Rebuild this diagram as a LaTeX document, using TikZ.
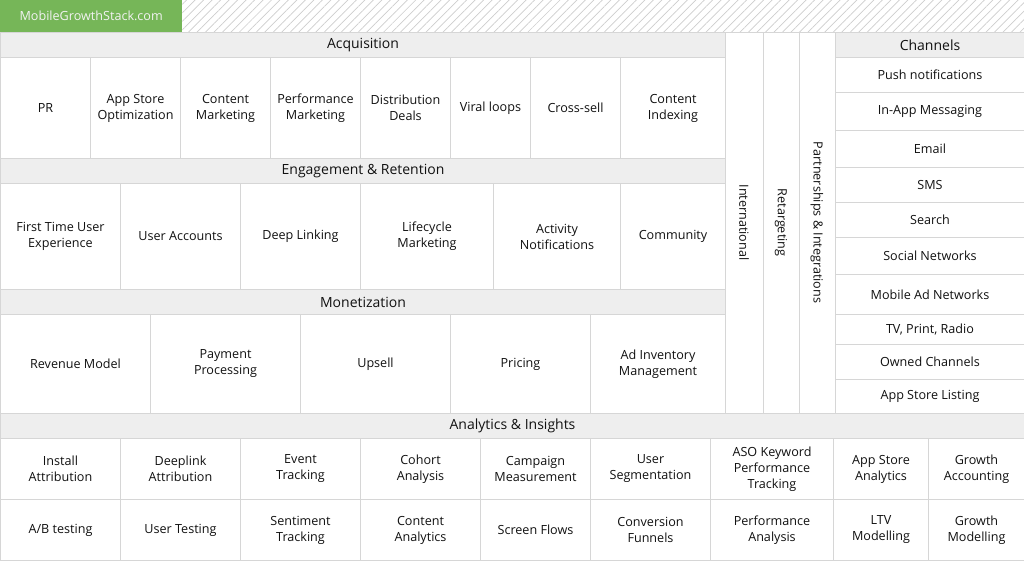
\documentclass[tikz,border=0pt]{standalone}
\usepackage{fontspec}
\setmainfont{Open Sans}
\usetikzlibrary{positioning,patterns.meta}
\definecolor{stackgreen}{RGB}{118,182,88}
\definecolor{linegray}{RGB}{214,214,214}
\definecolor{hdrgray}{RGB}{238,238,238}
\definecolor{txtgray}{RGB}{17,17,17}
\definecolor{hatchgray}{RGB}{205,205,205}

\begin{document}
\begin{tikzpicture}[x=1pt,y=-1pt,
  cell/.style={draw=linegray,line width=1pt,fill=white,anchor=north west,inner sep=0pt,
    align=center,text=txtgray,font=\fontsize{12.6}{16}\selectfont},
  hdr/.style={cell,fill=hdrgray,font=\fontsize{14}{16}\selectfont},
  side/.style={cell,anchor=center,rotate=-90}]
  \useasboundingbox (0,0) rectangle (1024,560);

  % title bar
  \node[fill=stackgreen,anchor=north west,minimum width=182pt,minimum height=32pt,inner sep=0pt,
    text=white!95!black,font=\fontsize{12.6}{14}\selectfont] (brand) at (0,0) {MobileGrowthStack.com};
  \node[anchor=north west,minimum width=842pt,minimum height=32pt,inner sep=0pt,
    pattern={Lines[angle=45,distance=6pt,line width=0.7pt]},pattern color=hatchgray] (hatch) at (182,0) {};

  % Acquisition
  \node[hdr,minimum width=725pt,minimum height=25pt] (acqhead) at (0,32) {Acquisition};
  \foreach \x/\w/\t [count=\i] in {0/90/PR, 90/90/{App Store\\Optimization}, 180/90/{Content\\Marketing},
      270/90/{Performance\\Marketing}, 360/90/{Distribution\\Deals}, 450/80/{Viral loops},
      530/90/Cross-sell, 620/105/{Content\\Indexing}}
    \node[cell,minimum width=\w pt,minimum height=101pt] (acq\i) at (\x,57) {\t};

  % Engagement & Retention
  \node[hdr,minimum width=725pt,minimum height=25pt] (enghead) at (0,158) {Engagement \& Retention};
  \foreach \x/\w/\t [count=\i] in {0/120/{First Time User\\Experience}, 120/120/{User Accounts},
      240/120/{Deep Linking}, 360/133/{Lifecycle\\Marketing}, 493/127/{Activity\\Notifications},
      620/105/Community}
    \node[cell,minimum width=\w pt,minimum height=106pt] (eng\i) at (\x,183) {\t};

  % Monetization
  \node[hdr,minimum width=725pt,minimum height=25pt] (monhead) at (0,289) {Monetization};
  \foreach \x/\w/\t [count=\i] in {0/150/{Revenue Model}, 150/150/{Payment\\Processing},
      300/150/Upsell, 450/140/Pricing, 590/135/{Ad Inventory\\Management}}
    \node[cell,minimum width=\w pt,minimum height=99pt] (mon\i) at (\x,314) {\t};

  % vertical columns
  \node[side,minimum width=381pt,minimum height=38pt] (intl) at (744,222.5) {International};
  \node[side,minimum width=381pt,minimum height=36pt] (retarget) at (781,222.5) {Retargeting};
  \node[side,minimum width=381pt,minimum height=36pt] (partner) at (817,222.5) {Partnerships \& Integrations};

  % Channels
  \node[hdr,minimum width=189pt,minimum height=25pt] (chanhead) at (835,32) {Channels};
  \foreach \y/\h/\t [count=\i] in {57/35/{Push notifications}, 92/38/{In-App Messaging}, 130/37/Email,
      167/35/SMS, 202/35/Search, 237/37/{Social Networks}, 274/40/{Mobile Ad Networks},
      314/30/{TV, Print, Radio}, 344/35/{Owned Channels}, 379/34/{App Store Listing}}
    \node[cell,minimum width=189pt,minimum height=\h pt] (chan\i) at (835,\y) {\t};

  % Analytics & Insights
  \node[hdr,minimum width=1024pt,minimum height=25pt] (anahead) at (0,413) {Analytics \& Insights};
  \foreach \x/\w/\t [count=\i] in {0/120/{Install\\Attribution}, 120/120/{Deeplink\\Attribution},
      240/120/{Event\\Tracking}, 360/120/{Cohort\\Analysis}, 480/110/{Campaign\\Measurement},
      590/120/{User\\Segmentation}, 710/123/{ASO Keyword\\Performance\\Tracking},
      833/95/{App Store\\Analytics}, 928/96/{Growth\\Accounting}}
    \node[cell,minimum width=\w pt,minimum height=61pt] (anaa\i) at (\x,438) {\t};
  \foreach \x/\w/\t [count=\i] in {0/120/{A/B testing}, 120/120/{User Testing},
      240/120/{Sentiment\\Tracking}, 360/120/{Content\\Analytics}, 480/110/{Screen Flows},
      590/120/{Conversion\\Funnels}, 710/123/{Performance\\Analysis},
      833/95/{LTV\\Modelling}, 928/96/{Growth\\Modelling}}
    \node[cell,minimum width=\w pt,minimum height=61pt] (anab\i) at (\x,499) {\t};
\end{tikzpicture}
\end{document}
